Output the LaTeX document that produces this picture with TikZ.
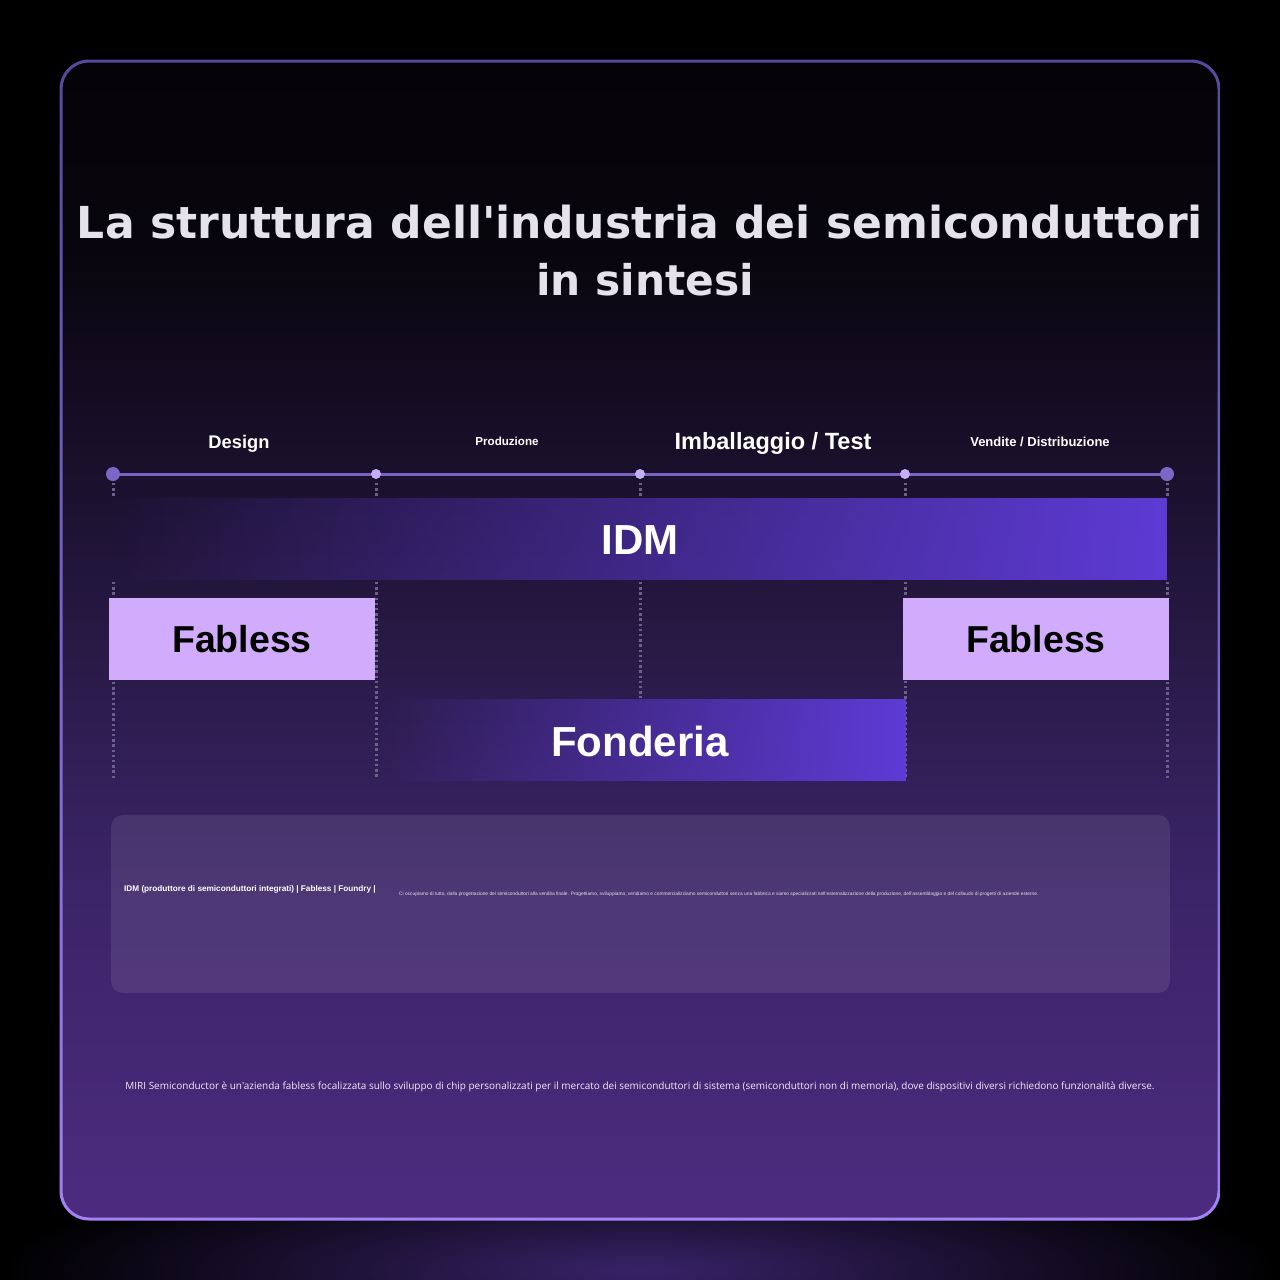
\documentclass[tikz,border=0pt]{standalone}
\usepackage{fontspec}
\setmainfont{Liberation Sans}
\newfontfamily\titlefont{DejaVu Sans}
\newfontfamily\bodyfont{Open Sans}
\usetikzlibrary{fadings}
\definecolor{linec}{HTML}{7A62C4}
\definecolor{dotend}{HTML}{7E66C8}
\definecolor{dotmid}{HTML}{C4AEF6}
\definecolor{barc}{HTML}{5E3BD6}
\definecolor{fabc}{HTML}{D2ACFC}
\definecolor{dotline}{HTML}{6A6088}
\definecolor{panelc}{HTML}{4E3582}
\definecolor{titlec}{HTML}{E6E2EC}
\definecolor{glowc}{HTML}{382268}
\pgfdeclareverticalshading{insidesh}{100bp}{%
  rgb(0bp)=(0.30,0.17,0.50); rgb(25bp)=(0.30,0.17,0.50); rgb(40bp)=(0.23,0.14,0.40); rgb(56bp)=(0.11,0.07,0.19); rgb(67bp)=(0.03,0.02,0.05); rgb(75bp)=(0.02,0.01,0.03); rgb(100bp)=(0.02,0.01,0.03)}
\pgfdeclareverticalshading{bordersh}{100bp}{%
  rgb(0bp)=(0.64,0.51,0.95); rgb(25bp)=(0.64,0.51,0.95); rgb(50bp)=(0.47,0.39,0.80); rgb(75bp)=(0.33,0.29,0.60); rgb(100bp)=(0.33,0.29,0.60)}
\tikzfading[name=barfade, left color=transparent!100, right color=transparent!0]
\tikzfading[name=fonfade, left color=transparent!100, middle color=transparent!25, right color=transparent!0]
\tikzset{
  hdr/.style={text=white, inner sep=0pt, anchor=base},
  tdot/.style={circle, inner sep=0pt, minimum size=#1},
  vdots/.style={dotline, dash pattern=on 2.4pt off 2.8pt, line width=3pt},
  fab/.style={fill=fabc, minimum width=266pt, minimum height=82pt, inner sep=0pt, font=\fontsize{37.5}{40}\selectfont\bfseries, text=black},
  bartext/.style={text=white, inner sep=0pt, font=\fontsize{42}{46}\selectfont\bfseries},
}
\begin{document}
\begin{tikzpicture}[x=1pt,y=-1pt]
\useasboundingbox (0,0) rectangle (1280,1280);
\fill[black] (0,0) rectangle (1280,1280);
% bottom glow
\shade[inner color=glowc, outer color=black] (640,1270) ellipse [x radius=640, y radius=110];
% frame interior
\shade[shading=insidesh, rounded corners=28pt] (61,61) rectangle (1219,1219);
% frame border (ring)
\shade[shading=bordersh, even odd rule] [rounded corners=29.5pt] (59.5,59.5) rectangle (1220.5,1220.5) [rounded corners=26.5pt] (62.5,62.5) rectangle (1217.5,1217.5);
% title
\node[text=titlec, inner sep=0pt] (t1) at (640,222) {\resizebox{1126pt}{!}{\titlefont\bfseries La struttura dell'industria dei semiconduttori}};
\node[text=titlec, inner sep=0pt] (t2) at (645,280) {\resizebox{218pt}{!}{\titlefont\bfseries in sintesi}};
% headers
\node[hdr, font=\fontsize{18.3}{20}\selectfont\bfseries] (h1) at (239,448) {Design};
\node[hdr, font=\fontsize{11.6}{13}\selectfont\bfseries] (h2) at (507,445) {Produzione};
\node[hdr, font=\fontsize{23.5}{26}\selectfont\bfseries] (h3) at (773,449) {Imballaggio / Test};
\node[hdr, font=\fontsize{13}{15}\selectfont\bfseries] (h4) at (1040,446) {Vendite / Distribuzione};
% timeline
\coordinate (p1) at (113,474);
\coordinate (p2) at (376,474);
\coordinate (p3) at (640,474);
\coordinate (p4) at (905,474);
\coordinate (p5) at (1167,474);
\draw[linec, line width=3pt] (p1) -- (p5);
% dotted column guides (segments between the bars)
\foreach \x/\ya/\yb in {113/483/497, 113/582/597, 113/682/778,
                        376/483/497, 376/582/778,
                        640/483/497, 640/582/698,
                        905/483/497, 905/582/778,
                        1167/483/497, 1167/582/597, 1167/682/778}{
  \coordinate (ga) at (\x,\ya);
  \coordinate (gb) at (\x,\yb);
  \draw[vdots] (ga) -- (gb);
}
\node[tdot=14pt, fill=dotend] (d1) at (p1) {};
\node[tdot=10pt, fill=dotmid] (d2) at (p2) {};
\node[tdot=10pt, fill=dotmid] (d3) at (p3) {};
\node[tdot=10pt, fill=dotmid] (d4) at (p4) {};
\node[tdot=14pt, fill=dotend] (d5) at (p5) {};
% bars
\fill[barc, path fading=barfade] (113,498) rectangle (1170,580);
\node[bartext] (idm) at (640,540) {IDM};
\node[fab] (fab1) at (242,639) {Fabless};
\node[fab] (fab2) at (1036,639) {Fabless};
\fill[barc, path fading=fonfade] (380,699) rectangle (906,781);
\node[bartext] (fon) at (640,741) {Fonderia};
% info panel
\fill[white, opacity=0.09, rounded corners=12pt] (111,815) rectangle (1170,993);
\node[text=white, anchor=west, inner sep=0pt, font=\fontsize{8.2}{9}\selectfont\bfseries] (lab) at (124,889) {IDM (produttore di semiconduttori integrati) | Fabless | Foundry |};
\node[text=white!85!panelc, anchor=west, inner sep=0pt, font=\fontsize{4.85}{5}\selectfont] (desc) at (399,894) {Ci occupiamo di tutto, dalla progettazione dei semiconduttori alla vendita finale. Progettiamo, sviluppiamo, vendiamo e commercializziamo semiconduttori senza una fabbrica e siamo specializzati nell'esternalizzazione della produzione, dell'assemblaggio e del collaudo di progetti di aziende esterne.};
% footer
\node[text=white!90!panelc, inner sep=0pt, font=\bodyfont\fontsize{9.97}{12}\selectfont] (foot) at (640,1087) {MIRI Semiconductor è un'azienda fabless focalizzata sullo sviluppo di chip personalizzati per il mercato dei semiconduttori di sistema (semiconduttori non di memoria), dove dispositivi diversi richiedono funzionalità diverse.};
\end{tikzpicture}
\end{document}
